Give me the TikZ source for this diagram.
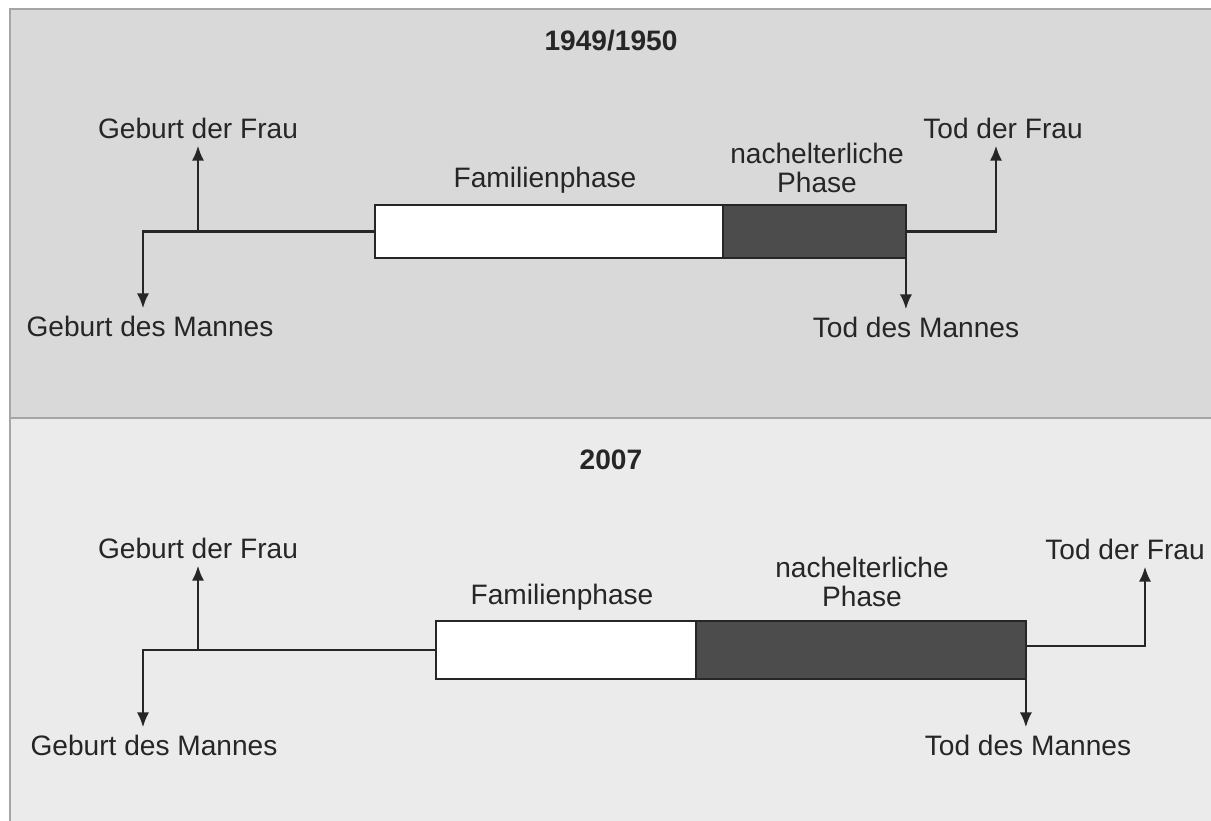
\documentclass[tikz,border=0pt]{standalone}
\usepackage{fontspec}
\setmainfont{Liberation Sans}
\usepackage{xcolor}
\usepackage{tikz}
\usetikzlibrary{positioning,arrows.meta}

\definecolor{panelold}{HTML}{D9D9D9}
\definecolor{panelnew}{HTML}{EBEBEB}
\definecolor{panelrule}{HTML}{A6A6A6}
\definecolor{inkgray}{HTML}{262626}

\tikzset{
	lbl/.style={font=\fontsize{16}{17}\selectfont, text=inkgray, inner sep=4pt},
	yearlbl/.style={lbl, font=\fontsize{16}{17}\selectfont\bfseries},
	famphase/.style={draw=inkgray, fill=white, line width=1.4pt, inner sep=0pt, outer sep=0pt},
	postphase/.style={famphase, fill=black!70},
	lifeline/.style={draw=inkgray, line width=1.4pt},
	arr/.style={lifeline, -{Latex[length=8.5pt,width=7pt]}},
}

\begin{document}
\begin{tikzpicture}[x=0.02cm,y=-0.02cm]
	\useasboundingbox (0,0) rectangle (1211,821);
	% the two panels
	\fill[panelold] (10,9) rectangle (1211,418);
	\fill[panelnew] (10,418) rectangle (1211,821);
	\draw[panelrule,line width=0.8pt] (10,821) -- (10,9) -- (1211,9);
	\draw[panelrule,line width=0.8pt] (10,418) -- (1211,418);

	% 1949/1950
	\node[yearlbl] (year1) at (611,41) {1949/1950};
	\node[famphase, minimum width=6.96cm, minimum height=1.06cm] (fam1) at (549,231.5) {};
	\node[postphase, minimum width=3.66cm, minimum height=1.06cm, right=0pt of fam1] (post1) {};
	\node[lbl] (famtxt1) at (545,180.5) {Familienphase};
	\node[lbl, align=center] (posttxt1) at (817,168) {nachelterliche\\Phase};
	\node[lbl] (frau1) at (198,128) {Geburt der Frau};
	\node[lbl] (mann1) at (150,326) {Geburt des Mannes};
	\node[lbl] (tfrau1) at (1003,128) {Tod der Frau};
	\node[lbl] (tmann1) at (916,327) {Tod des Mannes};
	\coordinate (knot1) at (143,231.5);
	\coordinate (knot2) at (996,231.5);
	\draw[arr] (fam1.west) -- (knot1) -- (knot1 |- mann1.north);
	\draw[arr] (frau1.south |- knot1) -- (frau1.south);
	\draw[arr] (post1.east) -- (knot2) -- (knot2 |- tfrau1.south);
	\draw[arr] (post1.south east) -- (post1.south east |- tmann1.north);

	% 2007
	\node[yearlbl] (year2) at (611,460) {2007};
	\node[famphase, minimum width=5.2cm, minimum height=1.16cm] (fam2) at (566,650) {};
	\node[postphase, minimum width=6.6cm, minimum height=1.16cm, right=0pt of fam2] (post2) {};
	\node[lbl] (famtxt2) at (562,597) {Familienphase};
	\node[lbl, align=center] (posttxt2) at (862,582) {nachelterliche\\Phase};
	\node[lbl] (frau2) at (198,548) {Geburt der Frau};
	\node[lbl] (mann2) at (154,745) {Geburt des Mannes};
	\node[lbl] (tfrau2) at (1125,549) {Tod der Frau};
	\node[lbl] (tmann2) at (1028,745) {Tod des Mannes};
	\coordinate (knot3) at (143,650);
	\coordinate (knot4) at (1145,646);
	\draw[arr] (fam2.west) -- (knot3) -- (knot3 |- mann2.north);
	\draw[arr] (frau2.south |- knot3) -- (frau2.south);
	\draw[arr] (post2.east |- knot4) -- (knot4) -- (knot4 |- tfrau2.south);
	\draw[arr] (post2.south east) -- (post2.south east |- tmann2.north);
\end{tikzpicture}
\end{document}
